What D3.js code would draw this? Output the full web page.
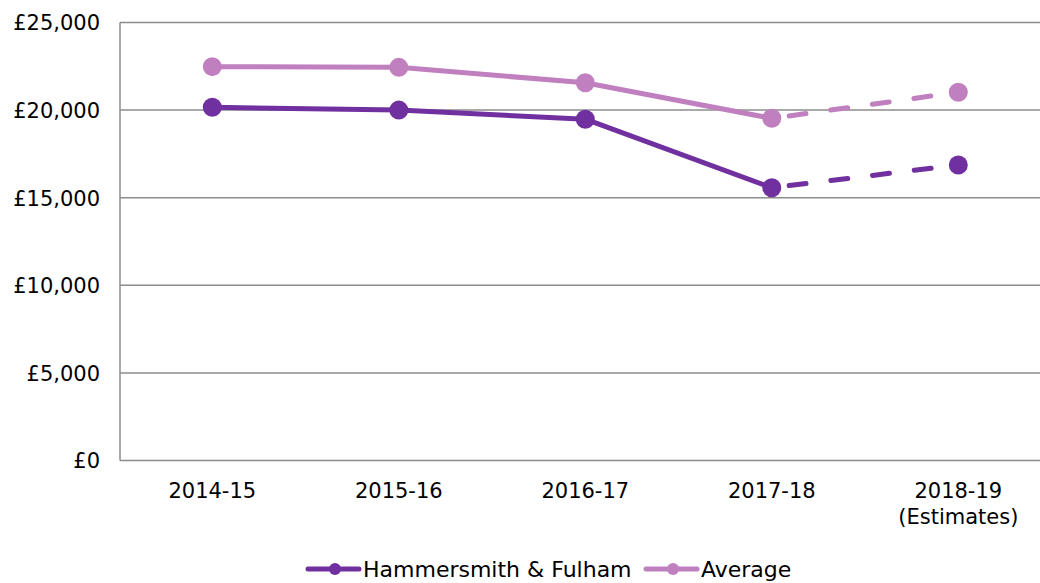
<!DOCTYPE html>
<html>
<head>
<meta charset="utf-8">
<script src="https://cdn.jsdelivr.net/npm/d3@7"></script>
<style>
  body { margin: 0; background: #fff; }
  text { font-family: "DejaVu Sans", Verdana, sans-serif; fill: #000; }
</style>
</head>
<body>
<div id="draw_here"></div>
<script>
    // Data
    years = ["2014-15", "2015-16", "2016-17", "2017-18", "2018-19"]
    yearLabels = [["2014-15"], ["2015-16"], ["2016-17"], ["2017-18"], ["2018-19", "(Estimates)"]]
    hf = [20160, 20000, 19480, 15570, 16870]
    avg = [22480, 22440, 21560, 19530, 21020]
    yTicks = [0, 5000, 10000, 15000, 20000, 25000]
    seriesNames = ["Hammersmith & Fulham", "Average"]

    canvas = ({width: 1040, height: 583})
    margin = ({top: 22.5, left: 120, bottom: 122.5})

    c_purple = "#7030a0"
    c_pink = "#c080bf"
    c_grid = "#8c8c8c"

    x = d3.scalePoint()
        .domain(years)
        .range([212.3, 958.3])

    y = d3.scaleLinear()
        .domain([0, 25000])
        .range([canvas.height - margin.bottom, margin.top])

    var svg = d3.select("div#draw_here").append("svg")
        .attr("width", canvas.width)
        .attr("height", canvas.height)

    // gridlines
    svg.append("g").selectAll("line")
        .data(yTicks)
        .join("line")
        .attr("x1", margin.left)
        .attr("x2", 1060)
        .attr("y1", d => y(d))
        .attr("y2", d => y(d))
        .attr("stroke", c_grid)
        .attr("stroke-width", 1.5)

    // y axis line
    svg.append("line")
        .attr("x1", margin.left).attr("x2", margin.left)
        .attr("y1", y(25000)).attr("y2", y(0))
        .attr("stroke", c_grid)
        .attr("stroke-width", 1.5)

    // y labels
    fmt = d => "£" + d3.format(",")(d)
    svg.append("g").selectAll("text")
        .data(yTicks)
        .join("text")
        .attr("x", 100)
        .attr("y", d => y(d))
        .attr("dy", "0.38em")
        .attr("text-anchor", "end")
        .attr("font-size", 21)
        .text(fmt)

    // x labels
    svg.append("g").selectAll("text")
        .data(years)
        .join("text")
        .attr("x", d => x(d))
        .attr("y", 498)
        .attr("text-anchor", "middle")
        .attr("font-size", 21)
        .selectAll("tspan")
        .data((d, i) => yearLabels[i])
        .join("tspan")
        .attr("x", function() { return this.parentNode.getAttribute("x") })
        .attr("dy", (d, i) => i == 0 ? 0 : 26)
        .text(d => d)

    line = d3.line()
        .x((d, i) => x(years[i]))
        .y(d => y(d))

    function drawSeries(vals, color) {
        var solid = vals.slice(0, 4)
        var pts = vals.map((v, i) => [x(years[i]), y(v)])
        svg.append("path")
            .attr("fill", "none")
            .attr("stroke", color)
            .attr("stroke-width", 5)
            .attr("stroke-linejoin", "round")
            .attr("d", line(solid))
        // estimate segment is dashed
        svg.append("path")
            .attr("fill", "none")
            .attr("stroke", color)
            .attr("stroke-width", 5)
            .attr("stroke-linecap", "round")
            .attr("stroke-dasharray", "17,25")
            .attr("stroke-dashoffset", 24.5)
            .attr("d", d3.line()([pts[3], pts[4]]))
        svg.append("g").selectAll("circle")
            .data(vals)
            .join("circle")
            .attr("cx", (d, i) => x(years[i]))
            .attr("cy", d => y(d))
            .attr("r", 9.5)
            .attr("fill", color)
    }

    drawSeries(avg, c_pink)
    drawSeries(hf, c_purple)

    // legend
    legend = [
        {name: seriesNames[0], color: c_purple, x0: 308},
        {name: seriesNames[1], color: c_pink, x0: 646}
    ]
    var lg = svg.append("g").selectAll("g")
        .data(legend)
        .join("g")
        .attr("transform", d => `translate(${d.x0},569)`)
    lg.append("line")
        .attr("x1", 0).attr("x2", 51)
        .attr("stroke", d => d.color)
        .attr("stroke-width", 5)
        .attr("stroke-linecap", "round")
    lg.append("circle")
        .attr("cx", 27)
        .attr("r", 6)
        .attr("fill", d => d.color)
    lg.append("text")
        .attr("x", 55)
        .attr("dy", "0.36em")
        .attr("font-size", 22)
        .text(d => d.name)
</script>
</body>
</html>
